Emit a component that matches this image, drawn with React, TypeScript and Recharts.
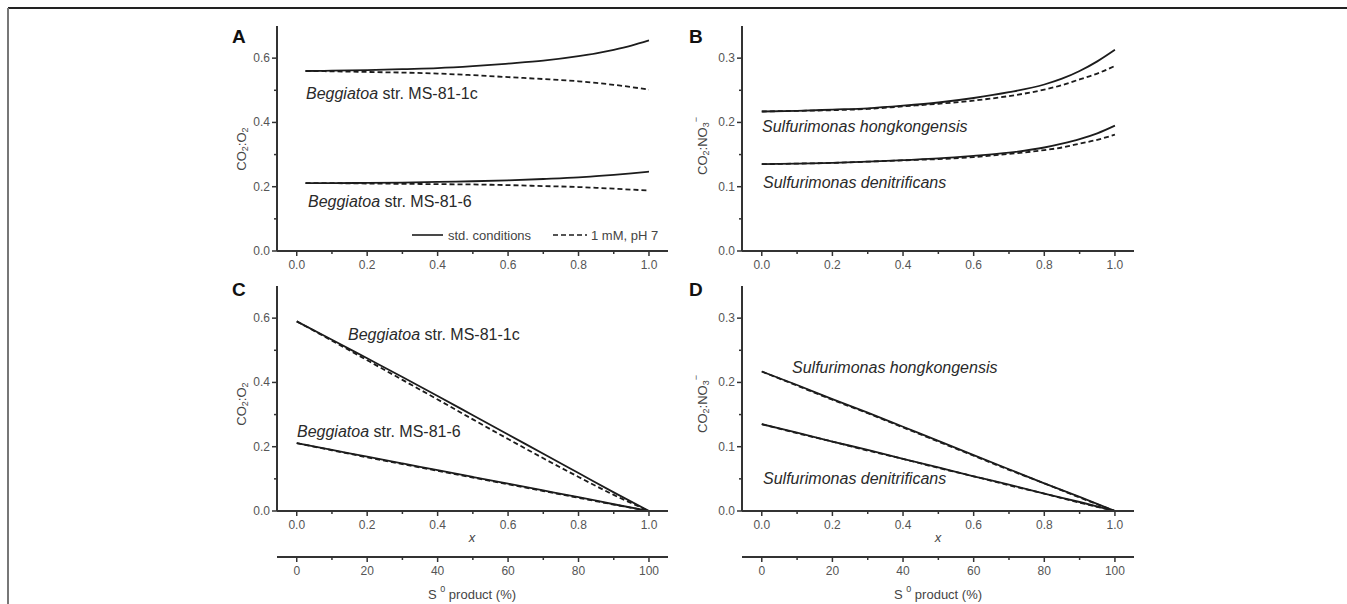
import React from "react";
import { LineChart, Line, XAxis, YAxis } from "recharts";

// ---------------------------------------------------------------
// Values
// ---------------------------------------------------------------
const xTop = [0.025, 0.1, 0.2, 0.3, 0.4, 0.5, 0.6, 0.7, 0.8, 0.85, 0.9, 0.95, 1.0];
const xTopB = [0, 0.1, 0.2, 0.3, 0.4, 0.5, 0.6, 0.7, 0.8, 0.85, 0.9, 0.95, 1.0];
const xFull = [0, 0.1, 0.2, 0.3, 0.4, 0.5, 0.6, 0.7, 0.8, 0.9, 1.0];

// Panel A: Beggiatoa, CO2:O2
const aStd1c = [0.56, 0.561, 0.563, 0.566, 0.569, 0.575, 0.583, 0.592, 0.606, 0.615, 0.626, 0.639, 0.655];
const aMm1c = [0.56, 0.559, 0.557, 0.555, 0.552, 0.547, 0.541, 0.535, 0.528, 0.523, 0.517, 0.51, 0.502];
const aStd6 = [0.211, 0.211, 0.212, 0.213, 0.215, 0.217, 0.22, 0.224, 0.229, 0.233, 0.237, 0.2415, 0.247];
const aMm6 = [0.211, 0.211, 0.21, 0.209, 0.208, 0.207, 0.205, 0.202, 0.199, 0.1965, 0.194, 0.191, 0.188];

// Panel B: Sulfurimonas, CO2:NO3-
const bStdHk = [0.217, 0.218, 0.22, 0.222, 0.226, 0.231, 0.238, 0.247, 0.259, 0.268, 0.28, 0.295, 0.313];
const bMmHk = [0.217, 0.218, 0.219, 0.221, 0.225, 0.229, 0.234, 0.241, 0.251, 0.258, 0.267, 0.276, 0.288];
const bStdDen = [0.135, 0.136, 0.137, 0.139, 0.1415, 0.144, 0.148, 0.153, 0.161, 0.167, 0.174, 0.183, 0.195];
const bMmDen = [0.135, 0.136, 0.137, 0.139, 0.141, 0.143, 0.146, 0.151, 0.157, 0.161, 0.167, 0.173, 0.181];

// Panel C: Beggiatoa vs x
const cStd1c = [0.59, 0.533, 0.475, 0.417, 0.358, 0.298, 0.238, 0.178, 0.118, 0.058, 0];
const cMm1c = [0.59, 0.53, 0.469, 0.408, 0.347, 0.285, 0.224, 0.164, 0.106, 0.05, 0];
const cStd6 = [0.211, 0.19, 0.169, 0.148, 0.127, 0.106, 0.085, 0.064, 0.043, 0.021, 0];
const cMm6 = [0.211, 0.189, 0.167, 0.146, 0.125, 0.104, 0.083, 0.062, 0.041, 0.02, 0];

// Panel D: Sulfurimonas vs x
const dStdHk = [0.217, 0.196, 0.174, 0.153, 0.131, 0.109, 0.087, 0.065, 0.043, 0.022, 0];
const dMmHk = [0.217, 0.195, 0.173, 0.152, 0.13, 0.108, 0.086, 0.064, 0.043, 0.021, 0];
const dStdDen = [0.135, 0.122, 0.108, 0.095, 0.081, 0.068, 0.054, 0.041, 0.027, 0.014, 0];
const dMmDen = [0.135, 0.121, 0.108, 0.094, 0.081, 0.067, 0.054, 0.04, 0.027, 0.013, 0];

const xTicks = [0, 0.1, 0.2, 0.3, 0.4, 0.5, 0.6, 0.7, 0.8, 0.9, 1.0];
const sTicks = [0, 10, 20, 30, 40, 50, 60, 70, 80, 90, 100];
const yTicksO2 = [0, 0.1, 0.2, 0.3, 0.4, 0.5, 0.6];
const yTicksNO3 = [0, 0.05, 0.1, 0.15, 0.2, 0.25, 0.3];

const FONT = '"Liberation Sans", Arial, Helvetica, sans-serif';
const AXIS = "#333";
const LABEL = "#555";
const INK = "#1c1c1c";

// s = S0 product in %, the same point expressed on the lower axis
function rows(xs: number[], a: number[], b: number[], c: number[], d: number[]) {
  return xs.map((x, i) => ({ x, s: x * 100, std1: a[i], mm1: b[i], std2: c[i], mm2: d[i] }));
}

const isMajor = (v: number, step: number) => Math.abs(v / step - Math.round(v / step)) < 1e-6;

// ticks drawn by hand so minor ticks get no label and a shorter line
const XTick = (props: any) => {
  const { x, y, payload, step, digits } = props;
  const major = isMajor(payload.value, step);
  return (
    <g>
      <line x1={x} x2={x} y1={y} y2={y + (major ? 5 : 3)} stroke={AXIS} strokeWidth={1.5} />
      {major && (
        <text x={x} y={y + 18} textAnchor="middle" fontSize={12} fill={LABEL} fontFamily={FONT}>
          {payload.value.toFixed(digits)}
        </text>
      )}
    </g>
  );
};

const YTick = (props: any) => {
  const { x, y, payload, step } = props;
  const major = isMajor(payload.value, step);
  return (
    <g>
      <line x1={x} x2={x - (major ? 5 : 3)} y1={y} y2={y} stroke={AXIS} strokeWidth={1.5} />
      {major && (
        <text x={x - 7} y={y + 4} textAnchor="end" fontSize={12} fill={LABEL} fontFamily={FONT}>
          {payload.value.toFixed(1)}
        </text>
      )}
    </g>
  );
};

interface PanelProps {
  left: number;
  top: number;
  yAxisWidth: number;
  rightMargin: number;
  data: ReturnType<typeof rows>;
  yMax: number;
  yTicks: number[];
  yStep: number;
  secondAxis?: boolean;
}

function Panel({ left, top, yAxisWidth, rightMargin, data, yMax, yTicks, yStep, secondAxis }: PanelProps) {
  const height = secondAxis ? 324 : 261;
  const series: [string, boolean][] = [
    ["std1", false],
    ["mm1", true],
    ["std2", false],
    ["mm2", true],
  ];
  return (
    <div style={{ position: "absolute", left, top }}>
      <LineChart
        width={460}
        height={height}
        data={data}
        margin={{ top: 6, right: rightMargin, bottom: 0, left: 0 }}
      >
        <XAxis
          dataKey="x"
          type="number"
          domain={[-0.056, 1.054]}
          ticks={xTicks}
          allowDataOverflow
          height={secondAxis ? 46 : 30}
          axisLine={{ stroke: AXIS, strokeWidth: 2 }}
          tickLine={false}
          tickSize={0}
          tickMargin={0}
          tick={(p: any) => <XTick {...p} step={0.2} digits={1} />}
        />
        {secondAxis && (
          <XAxis
            xAxisId="s"
            dataKey="s"
            type="number"
            domain={[-5.6, 105.4]}
            ticks={sTicks}
            allowDataOverflow
            height={47}
            axisLine={{ stroke: AXIS, strokeWidth: 2 }}
            tickLine={false}
            tickSize={0}
            tickMargin={0}
            tick={(p: any) => <XTick {...p} step={20} digits={0} />}
          />
        )}
        <XAxis
          xAxisId="top"
          orientation="top"
          type="number"
          domain={[-0.056, 1.054]}
          height={0}
          tick={false}
          tickLine={false}
          axisLine={{ stroke: AXIS, strokeWidth: 2 }}
        />
        <YAxis
          type="number"
          domain={[0, yMax]}
          ticks={yTicks}
          allowDataOverflow
          width={yAxisWidth}
          axisLine={{ stroke: AXIS, strokeWidth: 2 }}
          tickLine={false}
          tickSize={0}
          tickMargin={0}
          tick={(p: any) => <YTick {...p} step={yStep} />}
        />
        <YAxis
          yAxisId="right"
          orientation="right"
          type="number"
          domain={[0, yMax]}
          width={0}
          tick={false}
          tickLine={false}
          axisLine={{ stroke: AXIS, strokeWidth: 2 }}
        />
        {series.map(([key, dashed]) => (
          <Line
            key={key}
            dataKey={key}
            type="monotone"
            stroke={INK}
            strokeWidth={1.8}
            strokeDasharray={dashed ? "5 3" : undefined}
            dot={false}
            isAnimationActive={false}
          />
        ))}
        {/* carries the S0 % scale so the lower axis gets its domain; drawn without stroke */}
        {secondAxis && (
          <Line
            xAxisId="s"
            dataKey="std1"
            stroke="none"
            dot={false}
            activeDot={false}
            legendType="none"
            isAnimationActive={false}
          />
        )}
      </LineChart>
    </div>
  );
}

const txt = { fontFamily: FONT, fill: "#2a2a2a" } as const;

function SpeciesBeggiatoa({ x, y, strain }: { x: number; y: number; strain: string }) {
  return (
    <text x={x} y={y} fontSize={16} {...txt}>
      <tspan fontStyle="italic">Beggiatoa</tspan>
      <tspan> str. {strain}</tspan>
    </text>
  );
}

function Species({ x, y, name }: { x: number; y: number; name: string }) {
  return (
    <text x={x} y={y} fontSize={16} fontStyle="italic" {...txt}>
      {name}
    </text>
  );
}

function YLabel({ x, y, nitrate }: { x: number; y: number; nitrate?: boolean }) {
  return (
    <text
      x={x}
      y={y}
      transform={`rotate(-90, ${x}, ${y})`}
      textAnchor="middle"
      fontSize={13}
      fill="#444"
      fontFamily={FONT}
      dominantBaseline="central"
    >
      <tspan>CO</tspan>
      <tspan fontSize={9} dy={4}>2</tspan>
      <tspan dy={-4}>:</tspan>
      {nitrate ? (
        <>
          <tspan>NO</tspan>
          <tspan fontSize={9} dy={4}>3</tspan>
          <tspan fontSize={9} dy={-10}>−</tspan>
          <tspan dy={6}> </tspan>
        </>
      ) : (
        <>
          <tspan>O</tspan>
          <tspan fontSize={9} dy={4}>2</tspan>
        </>
      )}
    </text>
  );
}

function SAxisTitle({ x, y }: { x: number; y: number }) {
  return (
    <text x={x} y={y} textAnchor="middle" fontSize={13} fill="#444" fontFamily={FONT}>
      <tspan>S </tspan>
      <tspan fontSize={9} dy={-7}>0</tspan>
      <tspan dy={7}> product (%)</tspan>
    </text>
  );
}

function LegendKeys() {
  return (
    <g fontFamily={FONT} fontSize={13} fill="#444">
      <line x1={412} x2={443} y1={235} y2={235} stroke={INK} strokeWidth={1.6} />
      <text x={448} y={240}>std. conditions</text>
      <line x1={553} x2={587} y1={235} y2={235} stroke={INK} strokeWidth={1.6} strokeDasharray="5 3" />
      <text x={591} y={240}>1 mM, pH 7</text>
    </g>
  );
}

export default function App() {
  const dataA = rows(xTop, aStd1c, aMm1c, aStd6, aMm6);
  const dataB = rows(xTopB, bStdHk, bMmHk, bStdDen, bMmDen);
  const dataC = rows(xFull, cStd1c, cMm1c, cStd6, cMm6);
  const dataD = rows(xFull, dStdHk, dMmHk, dStdDen, dMmDen);

  return (
    <div style={{ position: "absolute", left: 0, top: 0, width: 1347, height: 604, background: "#fff", overflow: "hidden" }}>
      <Panel left={220} top={20} yAxisWidth={57} rightMargin={12} data={dataA} yMax={0.7} yTicks={yTicksO2} yStep={0.2} />
      <Panel left={680} top={20} yAxisWidth={62} rightMargin={6} data={dataB} yMax={0.35} yTicks={yTicksNO3} yStep={0.1} />
      <Panel left={220} top={280} yAxisWidth={57} rightMargin={12} data={dataC} yMax={0.7} yTicks={yTicksO2} yStep={0.2} secondAxis />
      <Panel left={680} top={280} yAxisWidth={62} rightMargin={6} data={dataD} yMax={0.35} yTicks={yTicksNO3} yStep={0.1} secondAxis />

      <svg width={1347} height={604} style={{ position: "absolute", left: 0, top: 0, pointerEvents: "none" }}>
        {/* page frame */}
        <line x1={8} x2={1347} y1={8} y2={8} stroke="#222" strokeWidth={2} />
        <line x1={8} x2={8} y1={8} y2={604} stroke="#777" strokeWidth={2} />

        {/* panel letters */}
        <g fontFamily={FONT} fontWeight="bold" fontSize={19} fill="#111">
          <text x={232} y={43}>A</text>
          <text x={689} y={43}>B</text>
          <text x={232} y={296}>C</text>
          <text x={689} y={296}>D</text>
        </g>

        <YLabel x={241} y={149} />
        <YLabel x={702} y={146} nitrate />
        <YLabel x={241} y={404} />
        <YLabel x={702} y={404} nitrate />

        <SpeciesBeggiatoa x={306} y={99} strain="MS-81-1c" />
        <SpeciesBeggiatoa x={308} y={207} strain="MS-81-6" />
        <Species x={762} y={132} name="Sulfurimonas hongkongensis" />
        <Species x={763} y={188} name="Sulfurimonas denitrificans" />
        <SpeciesBeggiatoa x={348} y={340} strain="MS-81-1c" />
        <SpeciesBeggiatoa x={297} y={437} strain="MS-81-6" />
        <Species x={792} y={373} name="Sulfurimonas hongkongensis" />
        <Species x={763} y={484} name="Sulfurimonas denitrificans" />

        <LegendKeys />

        {/* axis titles of the lower panels */}
        <text x={472} y={542} textAnchor="middle" fontSize={13} fontStyle="italic" fill="#444" fontFamily={FONT}>x</text>
        <text x={938} y={542} textAnchor="middle" fontSize={13} fontStyle="italic" fill="#444" fontFamily={FONT}>x</text>
        <SAxisTitle x={472} y={599} />
        <SAxisTitle x={938} y={599} />
      </svg>
    </div>
  );
}
